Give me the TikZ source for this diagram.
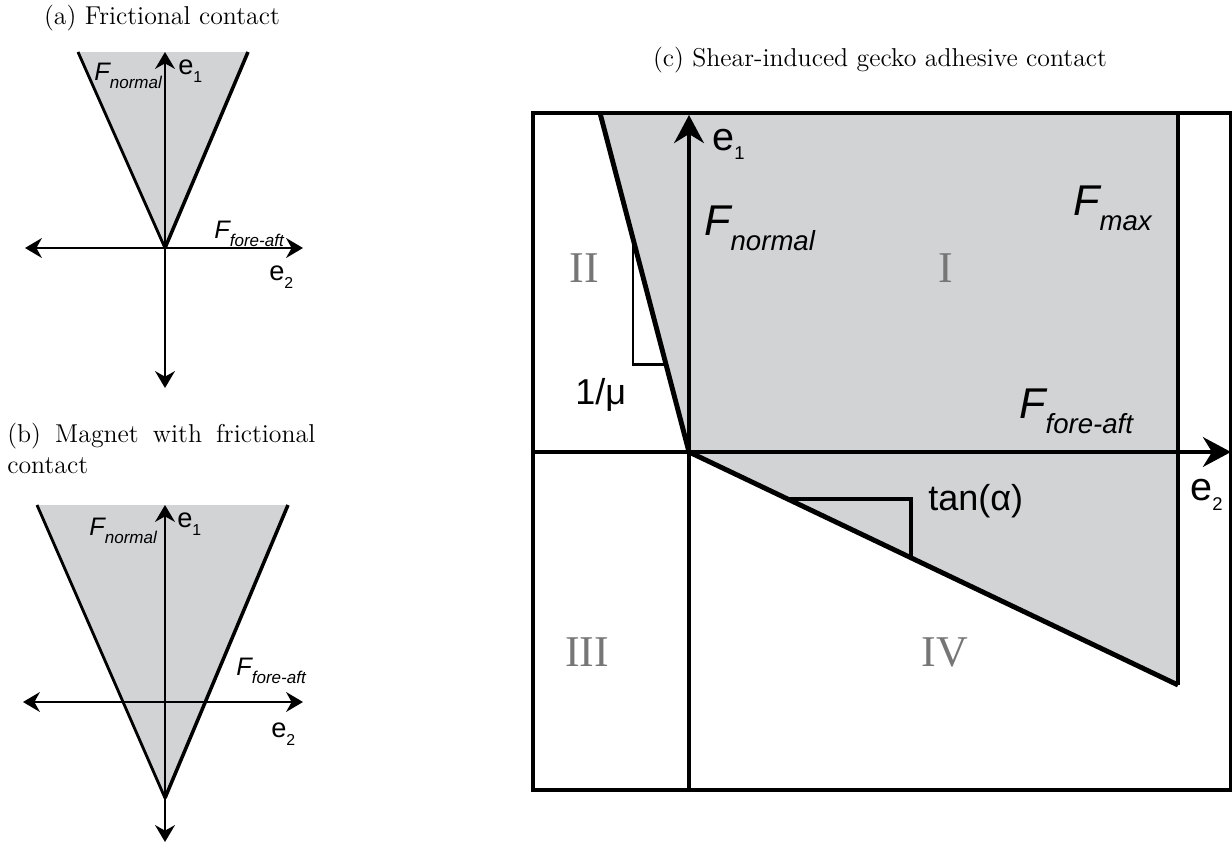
\documentclass[tikz,border=0pt]{standalone}
\usepackage{fontspec}
\usepackage{tikz}
\usetikzlibrary{arrows.meta}

\newfontfamily\labfont{Liberation Sans}
\newfontfamily\numfont{Liberation Serif}
\definecolor{conegray}{RGB}{209,211,212}
\definecolor{regiongray}{RGB}{118,118,118}

% force label: F with lowered italic subscript
\newcommand{\fsub}[3]{{\labfont\fontsize{#1}{#1}\selectfont\itshape F\raisebox{-0.35em}{\fontsize{#2}{#2}\selectfont #3}}}
% unit vector label: e with lowered index
\newcommand{\esub}[4]{{\labfont\fontsize{#1}{#1}\selectfont e\raisebox{-#4em}{\fontsize{#2}{#2}\selectfont #3}}}

\begin{document}
\begin{tikzpicture}[x=0.02cm, y=-0.02cm,
    >={Stealth[length=9.6pt, width=11.3pt]},
    axis/.style={line width=1.1pt},
    bigaxis/.style={line width=1.8pt, -{Stealth[length=16pt, width=17pt]}},
    thinedge/.style={line width=1.6pt},
    thickedge/.style={line width=2pt},
    caption/.style={inner sep=0pt, font=\fontsize{14.7}{18.2}\selectfont},
    lab/.style={inner sep=0pt, anchor=base west},
    region/.style={inner sep=0pt, text=regiongray, font=\numfont\fontsize{25}{25}\selectfont}]
    \useasboundingbox (0,0) rectangle (1232,846);

    % Panel (a): frictional contact
    \node[caption] (capa) at (162,18) {(a) Frictional contact};
    \coordinate (oa) at (165,248);
    \coordinate (la) at (78,52);
    \coordinate (ra) at (248,52);
    \coordinate (wa) at (25,248);
    \coordinate (ea) at (303,248);
    \coordinate (na) at (165,52);
    \coordinate (sa) at (165,388);
    \fill[conegray] (la) -- (oa) -- (ra) -- cycle;
    \draw[axis, <->] (wa) -- (ea);
    \draw[axis, <->] (sa) -- (na);
    \draw[thinedge] (la) -- (oa);
    \draw[thickedge] (oa) -- (ra);
    \node[lab] (fna) at (94,80) {\fsub{14.4}{9.7}{normal}};
    \node[lab] (e1a) at (178,74) {\esub{15.5}{9}{1}{0.3}};
    \node[lab] (ffa) at (214,238) {\fsub{14.4}{9.7}{fore-aft}};
    \node[lab] (e2a) at (269,280) {\esub{15.5}{9}{2}{0.32}};

    % Panel (b): magnet with frictional contact
    \node[caption, anchor=base west, text width=6.16cm, align=justify] (capb) at (7,442)
        {\hyphenpenalty=10000 (b) Magnet with frictional contact};
    \coordinate (ob) at (165,798);
    \coordinate (lb) at (37,505);
    \coordinate (rb) at (288,505);
    \coordinate (wb) at (23,702);
    \coordinate (eb) at (303,702);
    \coordinate (nb) at (165,505);
    \coordinate (sb) at (165,842);
    \fill[conegray] (lb) -- (ob) -- (rb) -- cycle;
    \draw[axis, <->] (wb) -- (eb);
    \draw[axis, <->] (sb) -- (nb);
    \draw[thinedge] (lb) -- (ob);
    \draw[thickedge] (ob) -- (rb);
    \node[lab] (fnb) at (89,535) {\fsub{14.4}{9.7}{normal}};
    \node[lab] (e1b) at (177,527) {\esub{15.5}{9}{1}{0.3}};
    \node[lab] (ffb) at (236,675) {\fsub{14.4}{9.7}{fore-aft}};
    \node[lab] (e2b) at (271,737) {\esub{15.5}{9}{2}{0.32}};

    % Panel (c): shear-induced gecko adhesive contact
    \node[caption] (capc) at (880,60) {(c) Shear-induced gecko adhesive contact};
    \coordinate (oc) at (689,452);
    \coordinate (tl) at (600,113);
    \coordinate (tr) at (1178,113);
    \coordinate (br) at (1178,685);
    \fill[conegray] (tl) -- (tr) -- (br) -- (oc) -- cycle;
    \draw[line width=2pt] (533,113) rectangle (1231,790);
    \coordinate (wc) at (533,452);
    \coordinate (ec) at (1231,452);
    \coordinate (nc) at (689,115);
    \coordinate (sc) at (689,790);
    \draw[bigaxis] (wc) -- (ec);
    \draw[bigaxis] (sc) -- (nc);
    \draw[line width=2.4pt] (tr) -- (br);
    \draw[line width=2.8pt] (tl) -- (oc) -- (br);
    % slope triangles
    \coordinate (mu1) at (633,239);
    \coordinate (mu2) at (633,364);
    \coordinate (mu3) at (666,364);
    \draw[line width=1.7pt] (mu1) -- (mu2) -- (mu3);
    \coordinate (ta1) at (788,499);
    \coordinate (ta2) at (911,499);
    \coordinate (ta3) at (911,558);
    \draw[line width=1.9pt] (ta1) -- (ta2) -- (ta3);
    \node[lab] (e1c) at (712,150) {\esub{22.5}{10.5}{1}{0.25}};
    \node[lab] (fnc) at (704,235) {\fsub{24.5}{15.7}{normal}};
    \node[lab] (fmc) at (1073,215) {\fsub{24.5}{15.7}{max}};
    \node[lab] (ffc) at (1019,418) {\fsub{24.5}{15.7}{fore-aft}};
    \node[lab] (e2c) at (1190,500) {\esub{22.5}{10.5}{2}{0.27}};
    \node[lab, font=\labfont\fontsize{20.5}{20.5}\selectfont] (mu) at (575,404) {1/μ};
    \node[lab, font=\labfont\fontsize{20.5}{20.5}\selectfont] (tan) at (928,510) {tan(α)};
    % regions
    \node[region] (r1) at (946,268) {I};
    \node[region] (r2) at (584,268) {II};
    \node[region] (r3) at (587,652) {III};
    \node[region] (r4) at (945,652) {IV};
\end{tikzpicture}
\end{document}
